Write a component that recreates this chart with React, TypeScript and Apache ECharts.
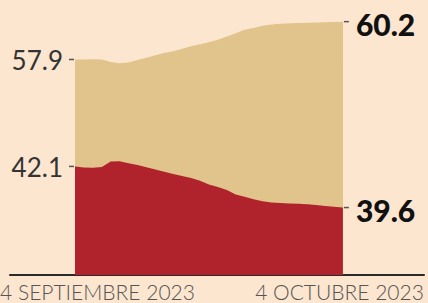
import React, { useEffect, useRef } from "react";
import * as echarts from "echarts";

// Daily observations, 4 Sept 2023 .. 4 Oct 2023 (31 days)
const days: number[] = Array.from({ length: 31 }, (_, i) => i);
const tanValues: number[] = [
  57.9, 57.9, 57.92, 57.9, 57.75, 57.67, 57.72, 57.87, 58.0, 58.15,
  58.3, 58.4, 58.55, 58.7, 58.82, 58.95, 59.1, 59.3, 59.5, 59.7,
  59.82, 59.95, 60.02, 60.07, 60.1, 60.12, 60.14, 60.15, 60.17, 60.18, 60.2,
];
const redValues: number[] = [
  42.1, 42.03, 42.02, 42.07, 42.4, 42.42, 42.3, 42.18, 42.05, 41.92,
  41.77, 41.64, 41.52, 41.4, 41.23, 41.0, 40.85, 40.67, 40.4, 40.25,
  40.1, 39.98, 39.9, 39.87, 39.85, 39.83, 39.8, 39.75, 39.7, 39.65, 39.6,
];
const xTickLabels: string[] = ["4 SEPTIEMBRE 2023", "4 OCTUBRE 2023"];

const BG = "#fde6cf";
const TAN = "#e0c48b";
const RED = "#b0232c";
const INK = "#2a2a2a";

export default function App() {
  const ref = useRef<HTMLDivElement>(null);
  useEffect(() => {
    if (!ref.current) return;
    const chart = echarts.init(ref.current, null, { renderer: "svg" });
    const last = days.length - 1;
    const toData = (vals: number[]) => vals.map((v, i) => [days[i], v]);
    chart.setOption({
      animation: false,
      backgroundColor: BG,
      grid: { left: 10, right: 4, top: 20, bottom: 28, containLabel: false },
      xAxis: {
        type: "value",
        min: -7.28,
        max: 39.08,
        axisLine: { show: true, onZero: false, lineStyle: { color: INK, width: 2 } },
        axisTick: { show: false },
        axisLabel: { show: false },
        splitLine: { show: false },
      },
      yAxis: [
        { type: "value", min: 35.5, max: 51.0, show: false, splitLine: { show: false } },
        { type: "value", min: 44.8, max: 60.3, show: false, splitLine: { show: false } },
      ],
      series: [
        {
          type: "line",
          yAxisIndex: 1,
          data: toData(tanValues),
          showSymbol: false,
          symbol: "none",
          lineStyle: { width: 0 },
          areaStyle: { color: TAN, opacity: 1, origin: "start" },
          z: 2,
        },
        {
          type: "line",
          yAxisIndex: 0,
          data: toData(redValues),
          showSymbol: false,
          symbol: "none",
          lineStyle: { width: 0 },
          areaStyle: { color: RED, opacity: 1, origin: "start" },
          z: 3,
        },
      ],
    });
    const pt = (axis: number, i: number, v: number) =>
      chart.convertToPixel({ xAxisIndex: 0, yAxisIndex: axis }, [days[i], v]) as number[];
    const marks = [
      { p: pt(1, 0, tanValues[0]), v: tanValues[0], dir: -1, bold: false },
      { p: pt(0, 0, redValues[0]), v: redValues[0], dir: -1, bold: false },
      { p: pt(1, last, tanValues[last]), v: tanValues[last], dir: 1, bold: true },
      { p: pt(0, last, redValues[last]), v: redValues[last], dir: 1, bold: true },
    ];
    const xl = pt(0, 0, 35.5);
    const xr = pt(0, last, 35.5);
    chart.setOption({
      graphic: [
        ...marks.map(({ p, dir }) => ({
          type: "line",
          shape: { x1: p[0] + dir * 1, y1: p[1], x2: p[0] + dir * 6, y2: p[1] },
          style: { stroke: "#555", lineWidth: 1.5 },
          z: 10,
        })),
        ...marks.map(({ p, v, dir, bold }) => ({
          type: "text",
          x: p[0] + dir * (bold ? 13 : 12),
          y: p[1] + (bold ? 2 : 1),
          z: 10,
          style: {
            text: v.toFixed(1),
            fontFamily: "Lato",
            fontSize: bold ? 30 : 26,
            fontWeight: bold ? 900 : 400,
            fill: bold ? "#111" : "#333",
            textAlign: dir < 0 ? "right" : "left",
            textVerticalAlign: "middle",
          },
        })),
        {
          type: "text",
          x: xl[0] - 75,
          y: xl[1] + 16,
          style: {
            text: xTickLabels[0],
            fontFamily: "Lato",
            fontSize: 21,
            fontWeight: 300,
            fill: "#555",
            textAlign: "left",
            textVerticalAlign: "middle",
          },
        },
        {
          type: "text",
          x: xr[0] + 81,
          y: xr[1] + 16,
          style: {
            text: xTickLabels[1],
            fontFamily: "Lato",
            fontSize: 21,
            fontWeight: 300,
            fill: "#555",
            textAlign: "right",
            textVerticalAlign: "middle",
          },
        },
      ],
    });
    return () => chart.dispose();
  }, []);
  return (
    <div
      ref={ref}
      style={{ position: "fixed", left: 0, top: 0, width: 428, height: 303 }}
    />
  );
}
